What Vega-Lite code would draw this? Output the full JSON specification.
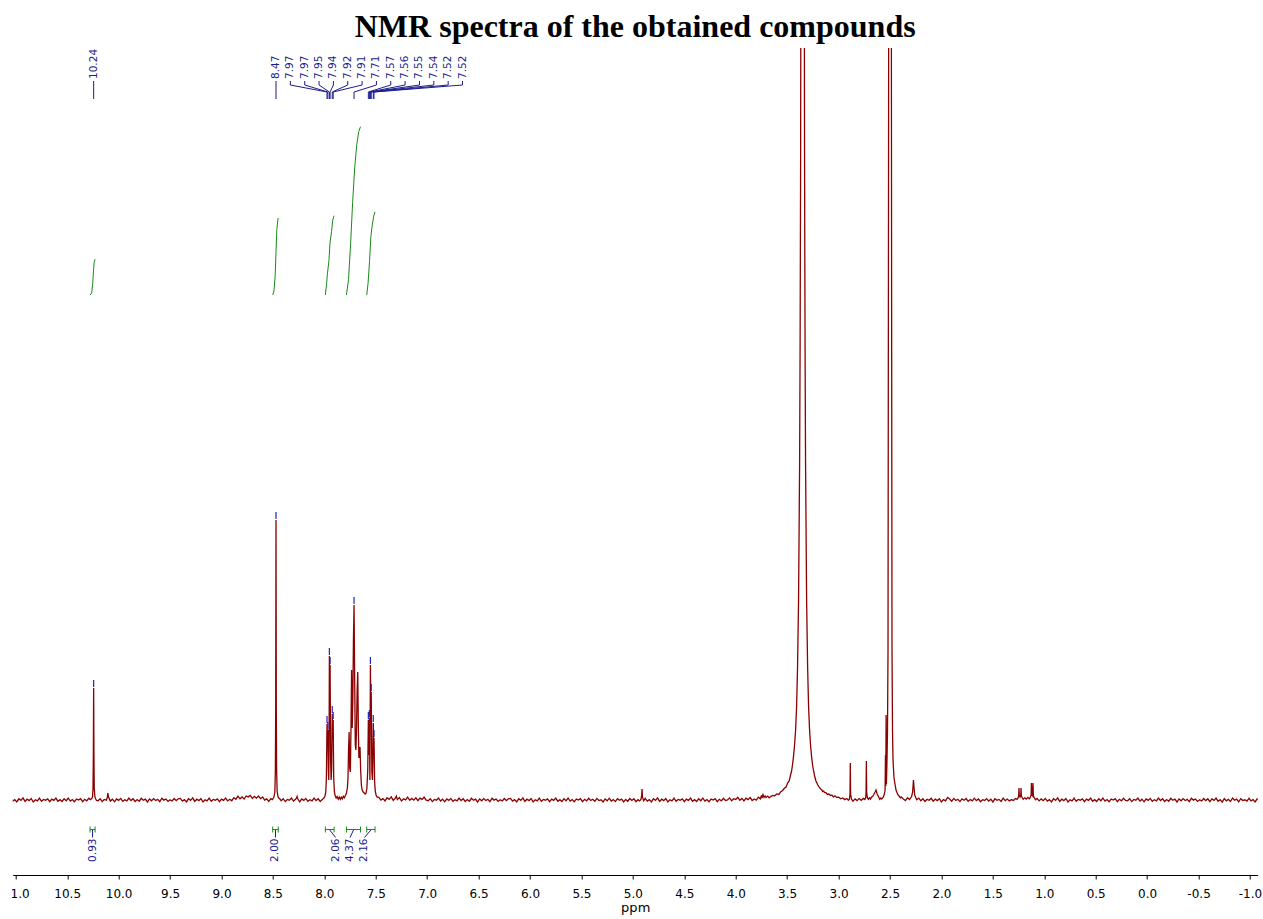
{
  "$schema": "https://vega.github.io/schema/vega-lite/v6.json",
  "width": 1245,
  "height": 827,
  "autosize": {"type": "none"},
  "padding": {"left": 12.7, "top": 48, "right": 5.3, "bottom": 44},
  "background": "white",
  "config": {"view": {"stroke": null}, "font": "DejaVu Sans"},
  "title": {
    "text": "NMR spectra of the obtained compounds",
    "font": "Liberation Serif",
    "fontSize": 32,
    "fontWeight": "bold",
    "color": "black",
    "anchor": "middle",
    "frame": "group",
    "baseline": "alphabetic",
    "offset": 10,
    "dy": 31
  },
  "datasets": {
    "spectrum": [
      {"ppm":11.05,"intensity":1.6},{"ppm":11.03,"intensity":-1.1},{"ppm":11.01,"intensity":0.4},{"ppm":10.99,"intensity":-1.9},{"ppm":10.97,"intensity":1.2},{"ppm":10.95,"intensity":-0.3},{"ppm":10.93,"intensity":2.1},{"ppm":10.91,"intensity":-1.4},{"ppm":10.89,"intensity":0.8},{"ppm":10.87,"intensity":-0.6},{"ppm":10.85,"intensity":1.5},{"ppm":10.83,"intensity":-2.0},{"ppm":10.81,"intensity":0.2},{"ppm":10.79,"intensity":-0.9},{"ppm":10.77,"intensity":1.8},{"ppm":10.75,"intensity":-1.3},{"ppm":10.73,"intensity":0.6},{"ppm":10.71,"intensity":-0.2},{"ppm":10.69,"intensity":1.1},{"ppm":10.67,"intensity":-1.7},{"ppm":10.65,"intensity":0.9},{"ppm":10.63,"intensity":-0.4},{"ppm":10.61,"intensity":1.9},{"ppm":10.59,"intensity":-1.2},{"ppm":10.57,"intensity":0.3},{"ppm":10.55,"intensity":-1.5},{"ppm":10.53,"intensity":1.3},{"ppm":10.51,"intensity":-0.7},{"ppm":10.49,"intensity":2.0},{"ppm":10.47,"intensity":-1.0},{"ppm":10.45,"intensity":0.5},{"ppm":10.43,"intensity":-1.8},{"ppm":10.41,"intensity":1.0},{"ppm":10.39,"intensity":-0.1},{"ppm":10.37,"intensity":1.4},{"ppm":10.35,"intensity":-1.6},{"ppm":10.33,"intensity":0.7},{"ppm":10.31,"intensity":-0.8},{"ppm":10.29,"intensity":1.7},
      {"ppm":10.275,"intensity":0.3},{"ppm":10.262,"intensity":1.5},{"ppm":10.254,"intensity":3},{"ppm":10.249,"intensity":12},{"ppm":10.246,"intensity":45},{"ppm":10.243,"intensity":112,"picked":true},{"ppm":10.24,"intensity":45},{"ppm":10.237,"intensity":12},{"ppm":10.232,"intensity":4},{"ppm":10.225,"intensity":1.5},{"ppm":10.215,"intensity":-0.5},
      {"ppm":10.2,"intensity":-0.7},{"ppm":10.18,"intensity":1.3},{"ppm":10.16,"intensity":-1.6},{"ppm":10.14,"intensity":0.5},{"ppm":10.12,"intensity":-0.2},{"ppm":10.11,"intensity":2.5},{"ppm":10.105,"intensity":7},{"ppm":10.098,"intensity":3},{"ppm":10.08,"intensity":-1.1},{"ppm":10.06,"intensity":0.8},{"ppm":10.04,"intensity":-1.8},{"ppm":10.02,"intensity":1.0},{"ppm":10.0,"intensity":-0.4},{"ppm":9.98,"intensity":1.6},{"ppm":9.96,"intensity":-1.3},{"ppm":9.94,"intensity":0.2},{"ppm":9.92,"intensity":-0.9},{"ppm":9.9,"intensity":2.0},{"ppm":9.88,"intensity":-0.6},{"ppm":9.86,"intensity":1.2},{"ppm":9.84,"intensity":-1.5},{"ppm":9.82,"intensity":0.4},{"ppm":9.8,"intensity":-1.2},{"ppm":9.78,"intensity":1.7},{"ppm":9.76,"intensity":-0.3},{"ppm":9.74,"intensity":0.9},{"ppm":9.72,"intensity":-2.0},{"ppm":9.7,"intensity":1.1},{"ppm":9.68,"intensity":-0.8},{"ppm":9.66,"intensity":1.4},{"ppm":9.64,"intensity":-0.5},{"ppm":9.62,"intensity":0.6},{"ppm":9.6,"intensity":-1.7},{"ppm":9.58,"intensity":1.8},{"ppm":9.56,"intensity":-0.1},{"ppm":9.54,"intensity":1.0},{"ppm":9.52,"intensity":-1.4},{"ppm":9.5,"intensity":0.3},{"ppm":9.48,"intensity":-1.0},{"ppm":9.46,"intensity":1.5},{"ppm":9.44,"intensity":-0.6},{"ppm":9.42,"intensity":1.2},
      {"ppm":9.4,"intensity":1.6},{"ppm":9.38,"intensity":-1.1},{"ppm":9.36,"intensity":0.4},{"ppm":9.34,"intensity":-1.9},{"ppm":9.32,"intensity":1.2},{"ppm":9.3,"intensity":-0.3},{"ppm":9.28,"intensity":2.1},{"ppm":9.26,"intensity":-1.4},{"ppm":9.24,"intensity":0.8},{"ppm":9.22,"intensity":-0.6},{"ppm":9.2,"intensity":1.5},{"ppm":9.18,"intensity":-2.0},{"ppm":9.16,"intensity":0.2},{"ppm":9.14,"intensity":-0.9},{"ppm":9.12,"intensity":1.8},{"ppm":9.1,"intensity":-1.3},{"ppm":9.08,"intensity":0.6},{"ppm":9.06,"intensity":-0.2},{"ppm":9.04,"intensity":1.1},{"ppm":9.02,"intensity":-1.7},{"ppm":9.0,"intensity":0.9},{"ppm":8.98,"intensity":-0.4},{"ppm":8.96,"intensity":1.9},{"ppm":8.94,"intensity":-0.9},{"ppm":8.92,"intensity":0.8},{"ppm":8.9,"intensity":-0.7},{"ppm":8.88,"intensity":2.4},{"ppm":8.86,"intensity":0.8},{"ppm":8.84,"intensity":3.9},{"ppm":8.82,"intensity":1.2},{"ppm":8.8,"intensity":3.0},{"ppm":8.78,"intensity":1.0},{"ppm":8.76,"intensity":4.0},{"ppm":8.74,"intensity":3.1},{"ppm":8.72,"intensity":4.6},{"ppm":8.7,"intensity":1.5},{"ppm":8.68,"intensity":3.6},{"ppm":8.66,"intensity":1.8},{"ppm":8.64,"intensity":3.9},{"ppm":8.62,"intensity":1.3},{"ppm":8.6,"intensity":3.0},{"ppm":8.58,"intensity":-0.1},{"ppm":8.56,"intensity":1.1},{"ppm":8.54,"intensity":-1.5},{"ppm":8.52,"intensity":1.4},
      {"ppm":8.505,"intensity":0.5},{"ppm":8.49,"intensity":3},{"ppm":8.481,"intensity":8},{"ppm":8.476,"intensity":30},{"ppm":8.473,"intensity":90},{"ppm":8.47,"intensity":280,"picked":true},{"ppm":8.467,"intensity":90},{"ppm":8.464,"intensity":30},{"ppm":8.459,"intensity":9},{"ppm":8.452,"intensity":4},{"ppm":8.445,"intensity":2.2},{"ppm":8.43,"intensity":0.8},
      {"ppm":8.42,"intensity":-0.7},{"ppm":8.4,"intensity":1.3},{"ppm":8.38,"intensity":-1.6},{"ppm":8.36,"intensity":0.5},{"ppm":8.34,"intensity":-0.2},{"ppm":8.32,"intensity":1.9},{"ppm":8.3,"intensity":-1.1},{"ppm":8.28,"intensity":0.8},{"ppm":8.27,"intensity":2.0},{"ppm":8.265,"intensity":3.5},{"ppm":8.26,"intensity":1.5},{"ppm":8.24,"intensity":-1.8},{"ppm":8.22,"intensity":1.0},{"ppm":8.2,"intensity":-0.4},{"ppm":8.18,"intensity":1.6},{"ppm":8.16,"intensity":-1.3},{"ppm":8.14,"intensity":0.2},{"ppm":8.12,"intensity":-0.9},{"ppm":8.1,"intensity":2.0},{"ppm":8.08,"intensity":-0.6},{"ppm":8.06,"intensity":1.2},{"ppm":8.04,"intensity":-1.5},{"ppm":8.02,"intensity":0.4},
      {"ppm":8.005,"intensity":2.0},{"ppm":7.995,"intensity":3.5},{"ppm":7.986,"intensity":8},{"ppm":7.98,"intensity":22},{"ppm":7.974,"intensity":76,"picked":true},{"ppm":7.97,"intensity":58},{"ppm":7.966,"intensity":70,"picked":true},{"ppm":7.961,"intensity":30},{"ppm":7.957,"intensity":20},{"ppm":7.954,"intensity":50},{"ppm":7.951,"intensity":144,"picked":true},{"ppm":7.947,"intensity":118},{"ppm":7.944,"intensity":135,"picked":true},{"ppm":7.939,"intensity":40},{"ppm":7.934,"intensity":20},{"ppm":7.929,"intensity":30},{"ppm":7.923,"intensity":86,"picked":true},{"ppm":7.918,"intensity":62},{"ppm":7.914,"intensity":80,"picked":true},{"ppm":7.909,"intensity":22},{"ppm":7.902,"intensity":8},{"ppm":7.895,"intensity":4.5},{"ppm":7.885,"intensity":2},{"ppm":7.875,"intensity":3.4},{"ppm":7.865,"intensity":0.8},{"ppm":7.855,"intensity":2.9},{"ppm":7.845,"intensity":0.6},{"ppm":7.835,"intensity":2.8},{"ppm":7.825,"intensity":1.2},{"ppm":7.815,"intensity":3.6},{"ppm":7.805,"intensity":2.2},{"ppm":7.795,"intensity":4.5},{"ppm":7.785,"intensity":7},
      {"ppm":7.776,"intensity":12},{"ppm":7.77,"intensity":22},{"ppm":7.765,"intensity":48},{"ppm":7.759,"intensity":68},{"ppm":7.753,"intensity":32},{"ppm":7.747,"intensity":28},{"ppm":7.741,"intensity":70},{"ppm":7.735,"intensity":130},{"ppm":7.729,"intensity":72},{"ppm":7.723,"intensity":100},{"ppm":7.717,"intensity":160},{"ppm":7.711,"intensity":195,"picked":true},{"ppm":7.705,"intensity":120},{"ppm":7.699,"intensity":55},{"ppm":7.693,"intensity":50},{"ppm":7.687,"intensity":72},{"ppm":7.681,"intensity":110},{"ppm":7.675,"intensity":128},{"ppm":7.669,"intensity":70},{"ppm":7.664,"intensity":42},{"ppm":7.659,"intensity":46},{"ppm":7.653,"intensity":53},{"ppm":7.647,"intensity":30},{"ppm":7.64,"intensity":15},{"ppm":7.632,"intensity":10},{"ppm":7.622,"intensity":8},{"ppm":7.612,"intensity":7},{"ppm":7.602,"intensity":6},{"ppm":7.594,"intensity":7},
      {"ppm":7.586,"intensity":12},{"ppm":7.578,"intensity":30},{"ppm":7.572,"intensity":80,"picked":true},{"ppm":7.567,"intensity":45},{"ppm":7.562,"intensity":82,"picked":true},{"ppm":7.557,"intensity":20},{"ppm":7.552,"intensity":135,"picked":true},{"ppm":7.548,"intensity":80},{"ppm":7.544,"intensity":108,"picked":true},{"ppm":7.538,"intensity":28},{"ppm":7.532,"intensity":20},{"ppm":7.528,"intensity":40},{"ppm":7.524,"intensity":77,"picked":true},{"ppm":7.521,"intensity":48},{"ppm":7.517,"intensity":62,"picked":true},{"ppm":7.511,"intensity":18},{"ppm":7.505,"intensity":9},{"ppm":7.497,"intensity":5},{"ppm":7.488,"intensity":3},
      {"ppm":7.47,"intensity":2.6},{"ppm":7.45,"intensity":-0.1},{"ppm":7.43,"intensity":1.4},{"ppm":7.41,"intensity":-0.9},{"ppm":7.39,"intensity":2.2},{"ppm":7.37,"intensity":0.7},{"ppm":7.35,"intensity":3.1},{"ppm":7.33,"intensity":-0.4},{"ppm":7.31,"intensity":1.8},{"ppm":7.3,"intensity":4.0},{"ppm":7.29,"intensity":0.4},{"ppm":7.27,"intensity":2.5},{"ppm":7.25,"intensity":-1.0},{"ppm":7.23,"intensity":1.2},{"ppm":7.21,"intensity":0.1},{"ppm":7.19,"intensity":2.8},{"ppm":7.17,"intensity":-0.3},{"ppm":7.15,"intensity":1.6},{"ppm":7.13,"intensity":-0.2},{"ppm":7.11,"intensity":2.1},{"ppm":7.09,"intensity":-0.7},{"ppm":7.07,"intensity":1.9},{"ppm":7.05,"intensity":0.6},{"ppm":7.03,"intensity":2.9},{"ppm":7.01,"intensity":-0.2},
      {"ppm":6.99,"intensity":-0.7},{"ppm":6.97,"intensity":1.3},{"ppm":6.95,"intensity":-1.6},{"ppm":6.93,"intensity":0.5},{"ppm":6.91,"intensity":-0.2},{"ppm":6.89,"intensity":1.9},{"ppm":6.87,"intensity":-1.1},{"ppm":6.85,"intensity":0.8},{"ppm":6.83,"intensity":-1.8},{"ppm":6.81,"intensity":1.0},{"ppm":6.79,"intensity":-0.4},{"ppm":6.77,"intensity":1.6},{"ppm":6.75,"intensity":-1.3},{"ppm":6.73,"intensity":0.2},{"ppm":6.71,"intensity":-0.9},{"ppm":6.69,"intensity":2.0},{"ppm":6.67,"intensity":-0.6},{"ppm":6.65,"intensity":1.2},{"ppm":6.63,"intensity":-1.5},{"ppm":6.61,"intensity":0.4},{"ppm":6.59,"intensity":-1.2},{"ppm":6.57,"intensity":1.7},{"ppm":6.55,"intensity":-0.3},{"ppm":6.53,"intensity":0.9},{"ppm":6.51,"intensity":-2.0},{"ppm":6.49,"intensity":1.1},{"ppm":6.47,"intensity":-0.8},{"ppm":6.45,"intensity":1.4},{"ppm":6.43,"intensity":-0.5},{"ppm":6.41,"intensity":0.6},{"ppm":6.39,"intensity":-1.7},{"ppm":6.37,"intensity":1.8},{"ppm":6.35,"intensity":-0.1},{"ppm":6.33,"intensity":1.0},{"ppm":6.31,"intensity":-1.4},{"ppm":6.29,"intensity":0.3},{"ppm":6.27,"intensity":-1.0},{"ppm":6.25,"intensity":1.5},{"ppm":6.23,"intensity":-0.6},{"ppm":6.21,"intensity":1.2},
      {"ppm":6.19,"intensity":1.6},{"ppm":6.17,"intensity":-1.1},{"ppm":6.15,"intensity":0.4},{"ppm":6.13,"intensity":-1.9},{"ppm":6.11,"intensity":1.2},{"ppm":6.09,"intensity":-0.3},{"ppm":6.07,"intensity":2.1},{"ppm":6.05,"intensity":-1.4},{"ppm":6.03,"intensity":0.8},{"ppm":6.01,"intensity":-0.6},{"ppm":5.99,"intensity":1.5},{"ppm":5.97,"intensity":-2.0},{"ppm":5.95,"intensity":0.2},{"ppm":5.93,"intensity":-0.9},{"ppm":5.91,"intensity":1.8},{"ppm":5.89,"intensity":-1.3},{"ppm":5.87,"intensity":0.6},{"ppm":5.85,"intensity":-0.2},{"ppm":5.83,"intensity":1.1},{"ppm":5.81,"intensity":-1.7},{"ppm":5.79,"intensity":0.9},{"ppm":5.77,"intensity":-0.4},{"ppm":5.75,"intensity":1.9},{"ppm":5.73,"intensity":-1.2},{"ppm":5.71,"intensity":0.3},{"ppm":5.69,"intensity":-1.5},{"ppm":5.67,"intensity":1.3},{"ppm":5.65,"intensity":-0.7},{"ppm":5.63,"intensity":2.0},{"ppm":5.61,"intensity":-1.0},{"ppm":5.59,"intensity":0.5},{"ppm":5.57,"intensity":-1.8},{"ppm":5.55,"intensity":1.0},{"ppm":5.53,"intensity":-0.1},{"ppm":5.51,"intensity":1.4},{"ppm":5.49,"intensity":-1.6},{"ppm":5.47,"intensity":0.7},{"ppm":5.45,"intensity":-0.8},{"ppm":5.43,"intensity":1.7},{"ppm":5.41,"intensity":-0.5},
      {"ppm":5.39,"intensity":0.7},{"ppm":5.37,"intensity":-1.3},{"ppm":5.35,"intensity":1.6},{"ppm":5.33,"intensity":-0.5},{"ppm":5.31,"intensity":0.2},{"ppm":5.29,"intensity":-1.9},{"ppm":5.27,"intensity":1.1},{"ppm":5.25,"intensity":-0.8},{"ppm":5.23,"intensity":1.8},{"ppm":5.21,"intensity":-1.0},{"ppm":5.19,"intensity":0.4},{"ppm":5.17,"intensity":-1.6},{"ppm":5.15,"intensity":1.3},{"ppm":5.13,"intensity":-0.2},{"ppm":5.11,"intensity":0.9},{"ppm":5.09,"intensity":-2.0},{"ppm":5.07,"intensity":0.6},{"ppm":5.05,"intensity":-1.2},{"ppm":5.03,"intensity":1.5},{"ppm":5.01,"intensity":-0.4},{"ppm":4.99,"intensity":1.2},{"ppm":4.97,"intensity":-1.7},{"ppm":4.95,"intensity":0.3},{"ppm":4.935,"intensity":-0.9},
      {"ppm":4.922,"intensity":0.5},{"ppm":4.915,"intensity":4},{"ppm":4.911,"intensity":11},{"ppm":4.907,"intensity":3},{"ppm":4.895,"intensity":-0.8},
      {"ppm":4.88,"intensity":1.6},{"ppm":4.86,"intensity":-1.1},{"ppm":4.84,"intensity":0.4},{"ppm":4.82,"intensity":-1.9},{"ppm":4.8,"intensity":1.2},{"ppm":4.78,"intensity":-0.3},{"ppm":4.76,"intensity":2.1},{"ppm":4.74,"intensity":-1.4},{"ppm":4.72,"intensity":0.8},{"ppm":4.7,"intensity":-0.6},{"ppm":4.68,"intensity":1.5},{"ppm":4.66,"intensity":-2.0},{"ppm":4.64,"intensity":0.2},{"ppm":4.62,"intensity":-0.9},{"ppm":4.6,"intensity":1.8},{"ppm":4.58,"intensity":-1.3},{"ppm":4.56,"intensity":0.6},{"ppm":4.54,"intensity":-0.2},{"ppm":4.52,"intensity":1.1},{"ppm":4.5,"intensity":-1.7},{"ppm":4.48,"intensity":0.9},{"ppm":4.46,"intensity":-0.4},{"ppm":4.44,"intensity":1.9},{"ppm":4.42,"intensity":-1.2},{"ppm":4.4,"intensity":0.3},{"ppm":4.38,"intensity":-1.5},{"ppm":4.36,"intensity":1.3},{"ppm":4.34,"intensity":-0.7},{"ppm":4.32,"intensity":2.0},{"ppm":4.3,"intensity":-1.0},{"ppm":4.28,"intensity":0.5},{"ppm":4.26,"intensity":-1.8},{"ppm":4.24,"intensity":1.0},{"ppm":4.22,"intensity":-0.1},{"ppm":4.2,"intensity":1.4},{"ppm":4.18,"intensity":-1.6},{"ppm":4.16,"intensity":0.7},{"ppm":4.14,"intensity":-0.8},{"ppm":4.12,"intensity":1.7},{"ppm":4.1,"intensity":-0.5},
      {"ppm":4.08,"intensity":0.1},{"ppm":4.06,"intensity":2.1},{"ppm":4.04,"intensity":-0.8},{"ppm":4.02,"intensity":1.3},{"ppm":4.0,"intensity":0.6},{"ppm":3.98,"intensity":2.7},{"ppm":3.96,"intensity":-0.3},{"ppm":3.94,"intensity":1.6},{"ppm":3.92,"intensity":-1.0},{"ppm":3.9,"intensity":1.8},{"ppm":3.88,"intensity":0.4},{"ppm":3.86,"intensity":2.4},{"ppm":3.84,"intensity":-0.5},{"ppm":3.82,"intensity":1.0},{"ppm":3.8,"intensity":-0.1},{"ppm":3.78,"intensity":2.8},{"ppm":3.76,"intensity":1.2},{"ppm":3.75,"intensity":4.5},{"ppm":3.745,"intensity":2.0},{"ppm":3.735,"intensity":5.5},{"ppm":3.725,"intensity":2.6},{"ppm":3.715,"intensity":4.0},{"ppm":3.705,"intensity":2.4},
      {"ppm":3.69,"intensity":3.9},{"ppm":3.675,"intensity":2.2},{"ppm":3.66,"intensity":3.4},{"ppm":3.64,"intensity":4.6},{"ppm":3.622,"intensity":4.2},{"ppm":3.6,"intensity":6.1},{"ppm":3.58,"intensity":5.6},{"ppm":3.564,"intensity":8.0},{"ppm":3.545,"intensity":9.5},{"ppm":3.525,"intensity":12},{"ppm":3.51,"intensity":13},{"ppm":3.496,"intensity":17},{"ppm":3.48,"intensity":19},{"ppm":3.467,"intensity":25},{"ppm":3.457,"intensity":29},{"ppm":3.447,"intensity":36},{"ppm":3.438,"intensity":44},{"ppm":3.428,"intensity":55},{"ppm":3.418,"intensity":70},{"ppm":3.408,"intensity":94},{"ppm":3.399,"intensity":133},{"ppm":3.389,"intensity":201},{"ppm":3.379,"intensity":336},{"ppm":3.374,"intensity":457},{"ppm":3.369,"intensity":646},{"ppm":3.365,"intensity":954},{"ppm":3.36,"intensity":1447},{"ppm":3.355,"intensity":2095},{"ppm":3.35,"intensity":2463},{"ppm":3.345,"intensity":2095},{"ppm":3.34,"intensity":1447},{"ppm":3.335,"intensity":954},{"ppm":3.331,"intensity":646},{"ppm":3.326,"intensity":457},{"ppm":3.321,"intensity":336},{"ppm":3.311,"intensity":201},{"ppm":3.301,"intensity":133},{"ppm":3.292,"intensity":94},{"ppm":3.282,"intensity":70},{"ppm":3.272,"intensity":54},{"ppm":3.262,"intensity":43},{"ppm":3.253,"intensity":35},{"ppm":3.243,"intensity":29},{"ppm":3.233,"intensity":24},{"ppm":3.22,"intensity":19},{"ppm":3.204,"intensity":15.5},{"ppm":3.19,"intensity":13},{"ppm":3.175,"intensity":11},{"ppm":3.165,"intensity":10.5},{"ppm":3.155,"intensity":8.4},{"ppm":3.145,"intensity":8.9},{"ppm":3.136,"intensity":7.5},{"ppm":3.12,"intensity":7.1},{"ppm":3.11,"intensity":5.6},{"ppm":3.095,"intensity":6.0},{"ppm":3.078,"intensity":4.4},{"ppm":3.065,"intensity":5.0},{"ppm":3.05,"intensity":3.2},{"ppm":3.035,"intensity":4.1},{"ppm":3.02,"intensity":2.6},{"ppm":3.0,"intensity":2.9},
      {"ppm":2.98,"intensity":1.2},{"ppm":2.96,"intensity":2.1},{"ppm":2.94,"intensity":0.4},{"ppm":2.92,"intensity":1.5},{"ppm":2.905,"intensity":-0.3},{"ppm":2.895,"intensity":1.0},{"ppm":2.889,"intensity":6},{"ppm":2.886,"intensity":37},{"ppm":2.883,"intensity":6},{"ppm":2.875,"intensity":0.9},{"ppm":2.86,"intensity":-1.2},{"ppm":2.84,"intensity":1.1},{"ppm":2.82,"intensity":-0.6},{"ppm":2.8,"intensity":1.4},{"ppm":2.78,"intensity":-0.3},{"ppm":2.76,"intensity":1.6},{"ppm":2.745,"intensity":0.4},{"ppm":2.736,"intensity":2.5},{"ppm":2.733,"intensity":8},{"ppm":2.73,"intensity":39},{"ppm":2.727,"intensity":8},{"ppm":2.72,"intensity":2.0},{"ppm":2.71,"intensity":0.6},{"ppm":2.7,"intensity":2.2},{"ppm":2.69,"intensity":1.0},{"ppm":2.68,"intensity":2.9},{"ppm":2.67,"intensity":3.4},{"ppm":2.66,"intensity":5.0},{"ppm":2.645,"intensity":8},{"ppm":2.636,"intensity":10},{"ppm":2.625,"intensity":6},{"ppm":2.61,"intensity":3.0},{"ppm":2.6,"intensity":0.8},{"ppm":2.59,"intensity":2.0},
      {"ppm":2.58,"intensity":0.9},{"ppm":2.565,"intensity":3.0},{"ppm":2.555,"intensity":6},{"ppm":2.548,"intensity":10},{"ppm":2.544,"intensity":45},{"ppm":2.541,"intensity":14},{"ppm":2.538,"intensity":85},{"ppm":2.535,"intensity":16},{"ppm":2.5292,"intensity":40},{"ppm":2.5243,"intensity":70},{"ppm":2.5194,"intensity":150},{"ppm":2.5146,"intensity":600},{"ppm":2.5097,"intensity":1200},{"ppm":2.505,"intensity":2000},{"ppm":2.5,"intensity":3000},{"ppm":2.495,"intensity":2000},{"ppm":2.4903,"intensity":1200},{"ppm":2.4854,"intensity":600},{"ppm":2.4806,"intensity":150},{"ppm":2.4757,"intensity":70},{"ppm":2.4708,"intensity":40},{"ppm":2.4611,"intensity":22},{"ppm":2.4417,"intensity":10},{"ppm":2.425,"intensity":5.5},{"ppm":2.4125,"intensity":4},{"ppm":2.4,"intensity":2.1},{"ppm":2.39,"intensity":3.0},
      {"ppm":2.37,"intensity":1.0},{"ppm":2.35,"intensity":-0.6},{"ppm":2.33,"intensity":2.2},{"ppm":2.31,"intensity":0.5},{"ppm":2.29,"intensity":3.5},{"ppm":2.28,"intensity":8},{"ppm":2.272,"intensity":20},{"ppm":2.266,"intensity":12},{"ppm":2.26,"intensity":5},{"ppm":2.25,"intensity":2.5},{"ppm":2.24,"intensity":0.3},{"ppm":2.22,"intensity":1.9},{"ppm":2.2,"intensity":-0.8},{"ppm":2.18,"intensity":1.2},{"ppm":2.16,"intensity":-1.5},{"ppm":2.14,"intensity":0.6},{"ppm":2.12,"intensity":-0.3},{"ppm":2.1,"intensity":1.7},{"ppm":2.08,"intensity":-1.2},{"ppm":2.06,"intensity":0.9},{"ppm":2.04,"intensity":-0.6},{"ppm":2.02,"intensity":1.3},{"ppm":2.0,"intensity":-1.9},{"ppm":1.98,"intensity":0.4},{"ppm":1.96,"intensity":-0.8},{"ppm":1.94,"intensity":2.6},{"ppm":1.92,"intensity":1.0},{"ppm":1.9,"intensity":-1.2},{"ppm":1.88,"intensity":1.6},{"ppm":1.86,"intensity":-0.5},{"ppm":1.84,"intensity":0.7},{"ppm":1.82,"intensity":-1.6},{"ppm":1.8,"intensity":1.1},{"ppm":1.78,"intensity":-0.2},{"ppm":1.76,"intensity":1.5},{"ppm":1.74,"intensity":-1.3},{"ppm":1.72,"intensity":0.5},{"ppm":1.7,"intensity":-0.9},{"ppm":1.68,"intensity":1.8},{"ppm":1.66,"intensity":-0.6},{"ppm":1.64,"intensity":1.0},{"ppm":1.62,"intensity":-1.7},{"ppm":1.6,"intensity":0.3},{"ppm":1.58,"intensity":-0.4},{"ppm":1.56,"intensity":1.4},{"ppm":1.54,"intensity":-1.1},{"ppm":1.52,"intensity":0.8},{"ppm":1.5,"intensity":-2.0},{"ppm":1.48,"intensity":1.2},{"ppm":1.46,"intensity":-0.3},{"ppm":1.44,"intensity":0.6},{"ppm":1.42,"intensity":-1.4},{"ppm":1.4,"intensity":1.9},{"ppm":1.38,"intensity":-0.7},{"ppm":1.36,"intensity":1.0},{"ppm":1.34,"intensity":-1.0},{"ppm":1.32,"intensity":0.4},{"ppm":1.3,"intensity":-0.5},{"ppm":1.28,"intensity":1.5},{"ppm":1.265,"intensity":0.6},
      {"ppm":1.255,"intensity":2.0},{"ppm":1.249,"intensity":4},{"ppm":1.246,"intensity":12},{"ppm":1.243,"intensity":5},{"ppm":1.236,"intensity":3},{"ppm":1.229,"intensity":5},{"ppm":1.226,"intensity":12},{"ppm":1.223,"intensity":4},{"ppm":1.215,"intensity":2.5},{"ppm":1.205,"intensity":0.8},{"ppm":1.19,"intensity":2.2},{"ppm":1.175,"intensity":0.9},{"ppm":1.16,"intensity":2.6},{"ppm":1.145,"intensity":1.2},{"ppm":1.135,"intensity":3.0},{"ppm":1.128,"intensity":5},{"ppm":1.125,"intensity":17},{"ppm":1.121,"intensity":5},{"ppm":1.113,"intensity":4},{"ppm":1.11,"intensity":17},{"ppm":1.106,"intensity":4},{"ppm":1.095,"intensity":1.8},{"ppm":1.085,"intensity":0.2},{"ppm":1.07,"intensity":1.6},{"ppm":1.05,"intensity":-0.9},{"ppm":1.03,"intensity":1.1},{"ppm":1.01,"intensity":-0.7},
      {"ppm":0.99,"intensity":1.6},{"ppm":0.97,"intensity":-1.1},{"ppm":0.95,"intensity":0.4},{"ppm":0.93,"intensity":-1.9},{"ppm":0.91,"intensity":1.2},{"ppm":0.89,"intensity":-0.3},{"ppm":0.87,"intensity":2.1},{"ppm":0.85,"intensity":-1.4},{"ppm":0.83,"intensity":0.8},{"ppm":0.81,"intensity":-0.6},{"ppm":0.79,"intensity":1.5},{"ppm":0.77,"intensity":-2.0},{"ppm":0.75,"intensity":0.2},{"ppm":0.73,"intensity":-0.9},{"ppm":0.71,"intensity":1.8},{"ppm":0.69,"intensity":-1.3},{"ppm":0.67,"intensity":0.6},{"ppm":0.65,"intensity":-0.2},{"ppm":0.63,"intensity":1.1},{"ppm":0.61,"intensity":-1.7},{"ppm":0.59,"intensity":0.9},{"ppm":0.57,"intensity":-0.4},{"ppm":0.55,"intensity":1.9},{"ppm":0.53,"intensity":-1.2},{"ppm":0.51,"intensity":0.3},{"ppm":0.49,"intensity":-1.5},{"ppm":0.47,"intensity":1.3},{"ppm":0.45,"intensity":-0.7},{"ppm":0.43,"intensity":2.0},{"ppm":0.41,"intensity":-1.0},{"ppm":0.39,"intensity":0.5},{"ppm":0.37,"intensity":-1.8},{"ppm":0.35,"intensity":1.0},{"ppm":0.33,"intensity":-0.1},{"ppm":0.31,"intensity":1.4},{"ppm":0.29,"intensity":-1.6},{"ppm":0.27,"intensity":0.7},{"ppm":0.25,"intensity":-0.8},{"ppm":0.23,"intensity":1.7},{"ppm":0.21,"intensity":-0.5},
      {"ppm":0.19,"intensity":-0.7},{"ppm":0.17,"intensity":1.3},{"ppm":0.15,"intensity":-1.6},{"ppm":0.13,"intensity":0.5},{"ppm":0.11,"intensity":-0.2},{"ppm":0.09,"intensity":1.9},{"ppm":0.07,"intensity":-1.1},{"ppm":0.05,"intensity":0.8},{"ppm":0.03,"intensity":-1.8},{"ppm":0.01,"intensity":1.0},{"ppm":-0.01,"intensity":-0.4},{"ppm":-0.03,"intensity":1.6},{"ppm":-0.05,"intensity":-1.3},{"ppm":-0.07,"intensity":0.2},{"ppm":-0.09,"intensity":-0.9},{"ppm":-0.11,"intensity":2.0},{"ppm":-0.13,"intensity":-0.6},{"ppm":-0.15,"intensity":1.2},{"ppm":-0.17,"intensity":-1.5},{"ppm":-0.19,"intensity":0.4},{"ppm":-0.21,"intensity":-1.2},{"ppm":-0.23,"intensity":1.7},{"ppm":-0.25,"intensity":-0.3},{"ppm":-0.27,"intensity":0.9},{"ppm":-0.29,"intensity":-2.0},{"ppm":-0.31,"intensity":1.1},{"ppm":-0.33,"intensity":-0.8},{"ppm":-0.35,"intensity":1.4},{"ppm":-0.37,"intensity":-0.5},{"ppm":-0.39,"intensity":0.6},{"ppm":-0.41,"intensity":-1.7},{"ppm":-0.43,"intensity":1.8},{"ppm":-0.45,"intensity":-0.1},{"ppm":-0.47,"intensity":1.0},{"ppm":-0.49,"intensity":-1.4},{"ppm":-0.51,"intensity":0.3},{"ppm":-0.53,"intensity":-1.0},{"ppm":-0.55,"intensity":1.5},{"ppm":-0.57,"intensity":-0.6},{"ppm":-0.59,"intensity":1.2},
      {"ppm":-0.61,"intensity":-1.6},{"ppm":-0.63,"intensity":1.1},{"ppm":-0.65,"intensity":-0.4},{"ppm":-0.67,"intensity":1.9},{"ppm":-0.69,"intensity":-1.2},{"ppm":-0.71,"intensity":0.3},{"ppm":-0.73,"intensity":-2.1},{"ppm":-0.75,"intensity":1.4},{"ppm":-0.77,"intensity":-0.8},{"ppm":-0.79,"intensity":0.6},{"ppm":-0.81,"intensity":-1.5},{"ppm":-0.83,"intensity":2.0},{"ppm":-0.85,"intensity":-0.2},{"ppm":-0.87,"intensity":0.9},{"ppm":-0.89,"intensity":-1.8},{"ppm":-0.91,"intensity":1.3},{"ppm":-0.93,"intensity":-0.6},{"ppm":-0.95,"intensity":0.2},{"ppm":-0.97,"intensity":-1.1},{"ppm":-0.99,"intensity":1.7},{"ppm":-1.01,"intensity":-0.9},{"ppm":-1.03,"intensity":0.4},{"ppm":-1.05,"intensity":-1.9},{"ppm":-1.07,"intensity":1.2},{"ppm":-1.09,"intensity":-0.3},{"ppm":-1.11,"intensity":1.5}
    ],
    "integral": [
      {"region":"a","ppm":10.278,"area":0},{"region":"a","ppm":10.262,"area":0.05},{"region":"a","ppm":10.252,"area":0.3},{"region":"a","ppm":10.245,"area":0.6},{"region":"a","ppm":10.238,"area":0.85},{"region":"a","ppm":10.229,"area":0.93},
      {"region":"b","ppm":8.502,"area":0},{"region":"b","ppm":8.49,"area":0.1},{"region":"b","ppm":8.478,"area":0.5},{"region":"b","ppm":8.47,"area":1.1},{"region":"b","ppm":8.462,"area":1.7},{"region":"b","ppm":8.452,"area":1.95},{"region":"b","ppm":8.448,"area":2.0},
      {"region":"c","ppm":7.99,"area":0},{"region":"c","ppm":7.978,"area":0.3},{"region":"c","ppm":7.97,"area":0.55},{"region":"c","ppm":7.955,"area":0.9},{"region":"c","ppm":7.945,"area":1.35},{"region":"c","ppm":7.93,"area":1.65},{"region":"c","ppm":7.918,"area":1.95},{"region":"c","ppm":7.905,"area":2.06},
      {"region":"d","ppm":7.785,"area":0},{"region":"d","ppm":7.765,"area":0.4},{"region":"d","ppm":7.745,"area":1.3},{"region":"d","ppm":7.725,"area":2.4},{"region":"d","ppm":7.705,"area":3.3},{"region":"d","ppm":7.685,"area":3.9},{"region":"d","ppm":7.665,"area":4.25},{"region":"d","ppm":7.648,"area":4.37},
      {"region":"e","ppm":7.588,"area":0},{"region":"e","ppm":7.575,"area":0.3},{"region":"e","ppm":7.56,"area":0.9},{"region":"e","ppm":7.548,"area":1.5},{"region":"e","ppm":7.535,"area":1.8},{"region":"e","ppm":7.52,"area":2.05},{"region":"e","ppm":7.507,"area":2.16}
    ]
  },
  "layer": [
    {
      "layer": [
        {
          "data": {"name": "spectrum"},
          "mark": {"type": "line", "color": "#8b0000", "strokeWidth": 1.3, "clip": true},
          "encoding": {
            "x": {
              "field": "ppm",
              "type": "quantitative",
              "scale": {"domain": [-1.075, 11.03], "reverse": true, "nice": false, "zero": false},
              "axis": {
                "title": "ppm",
                "values": [11,10.75,10.5,10.25,10,9.75,9.5,9.25,9,8.75,8.5,8.25,8,7.75,7.5,7.25,7,6.75,6.5,6.25,6,5.75,5.5,5.25,5,4.75,4.5,4.25,4,3.75,3.5,3.25,3,2.75,2.5,2.25,2,1.75,1.5,1.25,1,0.75,0.5,0.25,0,-0.25,-0.5,-0.75,-1],
                "labelExpr": "abs(datum.value * 2 - round(datum.value * 2)) < 0.001 ? replace(format(datum.value, '.1f'), '\u2212', '-') : ''",
                "tickSize": {"condition": {"test": "abs(datum.value * 2 - round(datum.value * 2)) < 0.001", "value": 4}, "value": 2.5},
                "grid": false,
                "domainColor": "black",
                "tickColor": "black",
                "labelColor": "black",
                "labelFont": "DejaVu Sans",
                "labelFontSize": 12,
                "labelPadding": 9,
                "labelOverlap": false,
                "labelFlush": false,
                "titleFont": "DejaVu Sans",
                "titleFontSize": 13,
                "titleFontWeight": "normal",
                "titleColor": "black",
                "titlePadding": 2
              }
            },
            "y": {
              "field": "intensity",
              "type": "quantitative",
              "scale": {"domain": [-75, 752], "nice": false, "zero": false},
              "axis": null
            }
          }
        },
        {
          "data": {"name": "spectrum"},
          "transform": [
            {"filter": "datum.picked"},
            {"window": [{"op": "row_number", "as": "rank"}], "sort": [{"field": "ppm", "order": "descending"}]},
            {"calculate": "datum.rank == 1 ? datum.ppm : 8.47 - (datum.rank - 2) * 0.1395", "as": "labelAt"}
          ],
          "layer": [
            {
              "mark": {"type": "rule", "color": "#2222bb", "strokeWidth": 1.2, "yOffset": -1, "y2Offset": -8},
              "encoding": {
                "x": {"field": "ppm", "type": "quantitative"},
                "y": {"field": "intensity", "type": "quantitative"},
                "y2": {"field": "intensity"}
              }
            },
            {
              "mark": {"type": "text", "angle": 270, "align": "left", "baseline": "middle", "font": "DejaVu Sans", "fontSize": 10.5, "color": "#1c1c8c"},
              "encoding": {
                "x": {"field": "labelAt", "type": "quantitative"},
                "y": {"datum": 721, "type": "quantitative"},
                "text": {"field": "ppm", "type": "quantitative", "format": ".2f"}
              }
            },
            {
              "mark": {"type": "rule", "color": "#1c1c8c", "strokeWidth": 1},
              "encoding": {
                "x": {"field": "labelAt", "type": "quantitative"},
                "y": {"datum": 719, "type": "quantitative"},
                "y2": {"datum": 715}
              }
            },
            {
              "mark": {"type": "rule", "color": "#1c1c8c", "strokeWidth": 1},
              "encoding": {
                "x": {"field": "labelAt", "type": "quantitative"},
                "x2": {"field": "ppm"},
                "y": {"datum": 715, "type": "quantitative"},
                "y2": {"datum": 708}
              }
            },
            {
              "mark": {"type": "rule", "color": "#1c1c8c", "strokeWidth": 1},
              "encoding": {
                "x": {"field": "ppm", "type": "quantitative"},
                "y": {"datum": 708, "type": "quantitative"},
                "y2": {"datum": 701}
              }
            }
          ]
        },
        {
          "data": {"name": "integral"},
          "transform": [
            {"aggregate": [
              {"op": "max", "field": "area", "as": "value"},
              {"op": "max", "field": "ppm", "as": "start"},
              {"op": "min", "field": "ppm", "as": "end"}
            ], "groupby": ["region"]},
            {"window": [{"op": "row_number", "as": "rank"}], "sort": [{"field": "start", "order": "descending"}]},
            {"calculate": "(datum.start + datum.end) / 2", "as": "center"},
            {"calculate": "datum.rank <= 2 ? datum.center : 7.75 - (datum.rank - 4) * 0.14", "as": "labelAt"}
          ],
          "layer": [
            {
              "mark": {"type": "rule", "color": "#1a8a1a", "strokeWidth": 1},
              "encoding": {
                "x": {"field": "start", "type": "quantitative"},
                "x2": {"field": "end"},
                "y": {"datum": -29.5, "type": "quantitative"}
              }
            },
            {
              "transform": [{"fold": ["start", "end"], "as": ["edge", "edgeAt"]}],
              "mark": {"type": "rule", "color": "#1a8a1a", "strokeWidth": 1},
              "encoding": {
                "x": {"field": "edgeAt", "type": "quantitative"},
                "y": {"datum": -26.5, "type": "quantitative"},
                "y2": {"datum": -32.5}
              }
            },
            {
              "mark": {"type": "rule", "color": "#1c1c8c", "strokeWidth": 1},
              "encoding": {
                "x": {"field": "center", "type": "quantitative"},
                "x2": {"field": "labelAt"},
                "y": {"datum": -30, "type": "quantitative"},
                "y2": {"datum": -37.5}
              }
            },
            {
              "mark": {"type": "text", "angle": 270, "align": "right", "baseline": "middle", "font": "DejaVu Sans", "fontSize": 10.5, "color": "#1c1c8c"},
              "encoding": {
                "x": {"field": "labelAt", "type": "quantitative"},
                "y": {"datum": -38.5, "type": "quantitative"},
                "text": {"field": "value", "type": "quantitative", "format": ".2f"}
              }
            }
          ]
        },
        {
          "data": {"values": [{}]},
          "mark": {"type": "rect", "color": "white"},
          "encoding": {
            "x": {"datum": 11.3, "type": "quantitative"},
            "x2": {"datum": 11.042},
            "y": {"datum": -80, "type": "quantitative"},
            "y2": {"datum": -112}
          }
        }
      ]
    },
    {
      "data": {"name": "integral"},
      "mark": {"type": "line", "color": "#1a8a1a", "strokeWidth": 1},
      "encoding": {
        "x": {"field": "ppm", "type": "quantitative"},
        "y": {
          "field": "area",
          "type": "quantitative",
          "scale": {"domain": [-15.065, 6.4156], "nice": false, "zero": false},
          "axis": null
        },
        "detail": {"field": "region"}
      }
    }
  ],
  "resolve": {"scale": {"y": "independent"}}
}
